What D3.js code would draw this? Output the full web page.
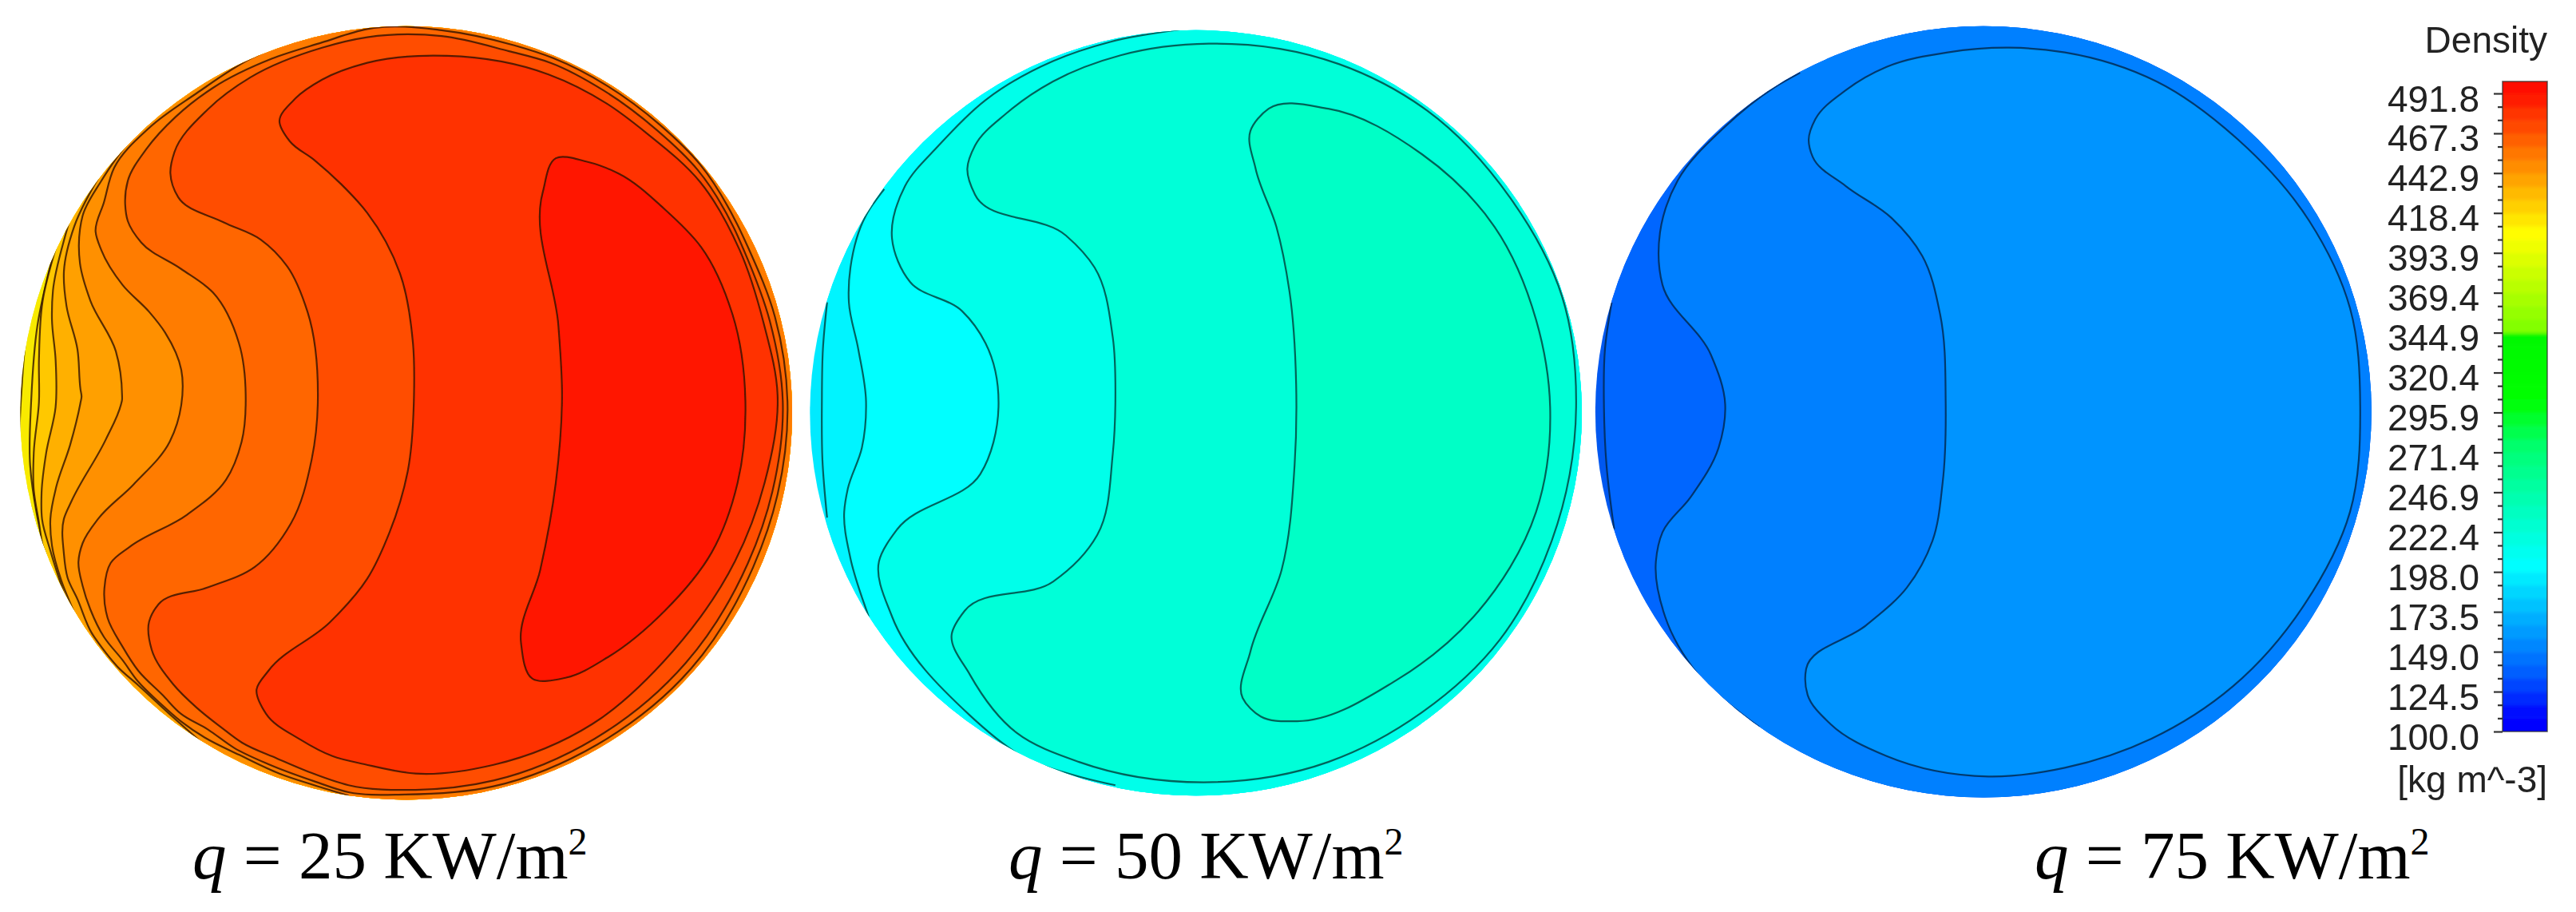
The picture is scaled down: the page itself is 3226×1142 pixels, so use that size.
<!DOCTYPE html>
<html>
<head>
<meta charset="utf-8">
<script src="https://cdn.jsdelivr.net/npm/d3@7/dist/d3.min.js"></script>
<style>
html,body{margin:0;padding:0;background:#fff;}
svg{display:block;}
</style>
</head>
<body>
<div id="chart"></div>
<script>
// Legend data
const legendTicks = [491.8,467.3,442.9,418.4,393.9,369.4,344.9,320.4,295.9,271.4,246.9,222.4,198.0,173.5,149.0,124.5,100.0];
const legendTitle = "Density";
const legendUnit = "[kg m^-3]";
const legendStopValues = [100,107.8,137.2,170,202.4,235.2,274.4,303.8,342,347.8,405.2,498.7];
const legendStopColors = ["#0000ff","#0000ff","#0060ff","#00b0ff","#00ffff","#00ffc0","#00ff70","#00ff00","#00f800","#80ff00","#ffff00","#ff0000"];

// Panel captions
const captionFlux = ["25","50","75"];
const captionUnit = "KW/m";

// Panel frames: source crop origin and width, wall ellipse (cx, cy, rx, ry)
const panelCropX = [0,1000,1980];
const panelCropW = [1020,1020,1000];
const panelWall = [[782,710,743,665],[765,710,743,658],[790,708,762,663]];
const panelBase = ["#f2ee00","#00eaff","#0058f0"];

// Panel 1 (q = 25) contours
const p1c0 = [[77,494],[54,563],[42,663],[40,780],[54,853],[85,950]];
const p1c1 = [[100,446],[72,560],[60,690],[58,800],[70,880],[92,965]];
const p1c2 = [[108,425],[82,518],[75,618],[75,691],[65,778],[65,842],[74,893],[88,957],[103,985]];
const p1c3 = [[136,373],[125,407],[102,499],[100,549],[107,618],[107,700],[89,778],[80,847],[81,893],[97,947],[125,1025]];
const p1c4 = [[190,305],[143,389],[123,467],[128,526],[149,600],[155,670],[157,682],[155,692],[135,765],[108,838],[97,892],[100,938],[118,998],[143,1053]];
const p1c5 = [[289,210],[246,247],[195,311],[159,371],[154,394],[154,453],[174,517],[223,604],[235,680],[235,687],[233,695],[204,755],[138,861],[123,892],[123,952],[130,993],[149,1030],[177,1089],[195,1112],[226,1146],[266,1178],[333,1233],[394,1281]];
const p1c6 = [[520,85],[482,101],[379,160],[287,220],[220,288],[200,348],[184,398],[195,430],[236,490],[287,536],[318,572],[349,636],[349,696],[327,759],[257,833],[189,892],[159,934],[151,966],[159,1007],[174,1048],[200,1095],[236,1135],[266,1172],[307,1208],[348,1240],[394,1268],[461,1298],[538,1330],[605,1350],[671,1368]];
const p1c7 = [[241,352],[246,380],[272,417],[348,462],[410,503],[460,590],[473,680],[465,760],[435,825],[360,885],[250,940],[213,968],[201,1011],[207,1062],[236,1112],[266,1153],[313,1195],[348,1227],[400,1254],[451,1286],[517,1314],[604,1343],[671,1362],[780,1366],[950,1352],[1150,1280],[1330,1150],[1450,975],[1497,850],[1516,690],[1492,545],[1440,425],[1419,385],[1348,283],[1271,215],[1168,147],[1065,100],[990,78],[850,52],[720,48],[707,50],[620,73],[523,101],[410,151],[338,201],[282,256],[246,311]];
const p1c8 = [[336,261],[328,298],[343,339],[430,382],[502,412],[553,458],[592,536],[612,680],[600,790],[560,900],[490,975],[400,1010],[305,1039],[287,1069],[292,1117],[333,1176],[379,1217],[425,1250],[466,1277],[533,1304],[594,1327],[671,1350],[800,1358],[950,1342],[1145,1270],[1320,1140],[1440,968],[1487,845],[1507,690],[1482,552],[1432,430],[1413,392],[1343,292],[1265,224],[1163,156],[1060,108],[980,88],[850,62],[707,64],[620,82],[482,133],[400,188]];
const p1c9 = [[538,208],[558,243],[605,275],[656,316],[707,366],[770,470],[795,590],[797,680],[785,810],[750,915],[707,995],[635,1070],[517,1153],[494,1185],[512,1227],[579,1272],[640,1300],[702,1314],[800,1330],[950,1315],[1140,1245],[1295,1120],[1415,965],[1472,830],[1497,680],[1470,555],[1424,430],[1348,313],[1245,229],[1168,178],[1056,128],[861,96],[707,108],[620,137],[569,169]];
const p1c10 = [[1070,272],[1130,278],[1190,298],[1280,360],[1350,425],[1410,540],[1435,690],[1420,830],[1370,950],[1280,1050],[1170,1130],[1090,1165],[1025,1167],[1003,1105],[1040,980],[1070,830],[1082,680],[1075,560],[1045,330]];
const p1open = [p1c0,p1c1,p1c2,p1c3,p1c4,p1c5,p1c6];
const p1closed = [p1c7,p1c8,p1c9,p1c10];
const p1colors = ["#f8ea00","#ffdc00","#ffc800","#ffb000","#ffa000","#ff9000","#ff7c00","#ff6600","#ff4d00","#ff3300","#ff1400"];

// Panel 2 (q = 50) contours
const p2a = [[55,520],[47,600],[45,690],[46,790],[55,890]];
const p2b = [[165,325],[130,370],[100,460],[97,520],[115,600],[130,690],[122,770],[95,840],[88,880],[100,960],[135,1060]];
const p2c = [[740,50],[600,72],[490,105],[360,172],[270,250],[205,320],[180,410],[215,485],[315,535],[360,590],[385,700],[350,815],[190,910],[155,965],[180,1060],[330,1230],[430,1300],[610,1350]];
const p2d = [[325,290],[340,335],[515,405],[570,460],[605,580],[610,690],[605,780],[575,920],[490,1000],[320,1050],[295,1090],[330,1160],[420,1260],[540,1310],[780,1345],[1020,1310],[1200,1225],[1350,1100],[1450,930],[1497,700],[1470,510],[1370,340],[1210,190],[1040,110],[790,75],[620,95],[490,140],[400,195],[340,250]];
const p2e = [[870,225],[905,187],[1020,187],[1200,265],[1340,390],[1420,550],[1447,700],[1420,880],[1300,1060],[1150,1170],[960,1240],[890,1232],[855,1200],[870,1120],[930,980],[955,800],[958,660],[945,500],[920,390],[880,290]];
const p2open = [p2a,p2b,p2c];
const p2closed = [p2d,p2e];
const p2colors = ["#00f4ff","#00ffff","#00ffea","#00ffd8","#00ffc6"];

// Panel 3 (q = 75) contours
const p3a = [[60,520],[47,600],[45,700],[50,800],[65,910]];
const p3b = [[430,125],[380,150],[280,220],[190,310],[155,400],[160,490],[255,610],[283,695],[270,770],[215,855],[160,915],[147,965],[165,1060],[230,1160],[350,1250]];
const p3c = [[447,240],[455,270],[520,320],[610,375],[670,440],[705,540],[716,690],[710,830],[690,930],[640,1010],[560,1075],[442,1150],[445,1195],[490,1245],[600,1300],[800,1335],[950,1320],[1120,1270],[1280,1180],[1420,1040],[1510,880],[1530,700],[1510,530],[1430,380],[1290,240],[1130,140],[950,90],[840,82],[720,90],[600,115],[520,155],[460,205]];
const p3open = [p3a,p3b];
const p3closed = [p3c];
const p3colors = ["#0066ff","#0080ff","#0094ff"];

const panelOpen = [p1open,p2open,p3open];
const panelClosed = [p1closed,p2closed,p3closed];
const panelColors = [p1colors,p2colors,p3colors];
const panelStroke = ["#2e1200","#063c38","#05264a"];

const W = 3226, H = 1142;
const svg = d3.select("#chart").append("svg").attr("width",W).attr("height",H).attr("viewBox",`0 0 ${W} ${H}`);
svg.append("rect").attr("width",W).attr("height",H).attr("fill","#fff");
const defs = svg.append("defs");
defs.append("filter").attr("id","soft").attr("x","-2%").attr("y","-2%").attr("width","104%").attr("height","104%")
  .append("feGaussianBlur").attr("stdDeviation",0.7);
defs.append("filter").attr("id","softText").attr("x","-5%").attr("y","-5%").attr("width","110%").attr("height","110%")
  .append("feGaussianBlur").attr("stdDeviation",0.7);
defs.append("filter").attr("id","softBand").attr("x","-5%").attr("y","-2%").attr("width","110%").attr("height","104%")
  .append("feGaussianBlur").attr("stdDeviation","0.6 2");

const yScale = d3.scaleLinear().domain([0,1568]).range([0,H]);

panelCropX.forEach((x0,i)=>{
  const xScale = d3.scaleLinear().domain([0,1568]).range([x0,x0+panelCropW[i]]);
  const [cx,cy,rx,ry] = panelWall[i];
  const clipId = "wall"+i;
  defs.append("clipPath").attr("id",clipId).append("ellipse")
    .attr("cx",xScale(cx)).attr("cy",yScale(cy))
    .attr("rx",xScale(cx+rx)-xScale(cx)).attr("ry",yScale(cy+ry)-yScale(cy));
  const g = svg.append("g").attr("filter","url(#soft)").append("g").attr("clip-path",`url(#${clipId})`);
  g.append("rect").attr("x",xScale(0)-10).attr("y",0).attr("width",xScale(1568)-xScale(0)+20).attr("height",H).attr("fill",panelBase[i]);
  const openLine = d3.line().x(d=>xScale(d[0])).y(d=>yScale(d[1])).curve(d3.curveCatmullRom.alpha(1));
  const closedLine = d3.line().x(d=>xScale(d[0])).y(d=>yScale(d[1])).curve(d3.curveCatmullRomClosed.alpha(1));
  const colors = panelColors[i];
  let k = 0;
  panelOpen[i].forEach(pts=>{
    const first = pts[0], last = pts[pts.length-1];
    const tail = [[last[0],1650],[1800,1650],[1800,-200],[first[0],-200]];
    const curve = openLine(pts);
    const fillPath = curve + tail.map(p=>`L${xScale(p[0])},${yScale(p[1])}`).join("") + "Z";
    g.append("path").attr("d",fillPath).attr("fill",colors[k]);
    g.append("path").attr("d",curve).attr("fill","none").attr("stroke",panelStroke[i]).attr("stroke-width",2.2).attr("stroke-opacity",0.8);
    k++;
  });
  panelClosed[i].forEach(pts=>{
    g.append("path").attr("d",closedLine(pts)).attr("fill",colors[k])
      .attr("stroke",panelStroke[i]).attr("stroke-width",2.2).attr("stroke-opacity",0.8);
    k++;
  });
});

// Captions
const captionX = [241,1263,2548];
const caption = svg.append("g").attr("font-family","'Liberation Serif',serif").attr("font-size",85).attr("fill","#000");
captionFlux.forEach((q,i)=>{
  const t = caption.append("text").attr("x",captionX[i]).attr("y",1100);
  t.append("tspan").attr("font-style","italic").text("q");
  t.append("tspan").text(` = ${q} ${captionUnit}`);
  t.append("tspan").attr("font-size",48).attr("dy",-30).text("2");
});

// Legend
const legendY = d3.scaleLinear().domain([100,491.8]).range([916,117]);
const barX0 = 3134, barX1 = 3190, barTop = 102;
const bandColor = d3.scaleLinear().domain(legendStopValues).range(legendStopColors).interpolate(d3.interpolateRgb);
const topValue = legendY.invert(barTop);
const bandStep = (491.8-100)/48;
const bandEdges = d3.range(100,topValue+bandStep,bandStep).map(v=>Math.min(v,topValue));
defs.append("clipPath").attr("id","barClip").append("rect")
  .attr("x",barX0).attr("y",barTop).attr("width",barX1-barX0).attr("height",legendY(100)-barTop);
const legend = svg.append("g").attr("filter","url(#softText)");
legend.append("g").attr("clip-path","url(#barClip)").append("g").attr("filter","url(#softBand)")
  .selectAll("rect.band").data(d3.pairs(bandEdges)).join("rect").attr("class","band")
  .attr("x",barX0-5).attr("width",barX1-barX0+10)
  .attr("y",d=>legendY(d[1])-(d[1]>=topValue?6:0)).attr("height",d=>legendY(d[0])-legendY(d[1])+(d[1]>=topValue?6:0)+(d[0]<=100?6:0.5))
  .attr("fill",d=>bandColor((d[0]+d[1])/2));
legend.append("rect").attr("x",barX0).attr("y",barTop).attr("width",barX1-barX0).attr("height",legendY(100)-barTop)
  .attr("fill","none").attr("stroke","#333").attr("stroke-width",1.6).attr("stroke-opacity",0.75);

const minorValues = [];
d3.pairs(legendTicks).forEach(([a,b])=>{ minorValues.push(a+(b-a)/3, a+2*(b-a)/3); });
const minorAxis = d3.axisLeft(legendY).tickValues(minorValues).tickSize(6).tickFormat("");
const majorAxis = d3.axisLeft(legendY).tickValues(legendTicks).tickSize(11).tickPadding(18).tickFormat(d=>d.toFixed(1));
const minorG = legend.append("g").attr("transform",`translate(${barX0},0)`).call(minorAxis);
const majorG = legend.append("g").attr("transform",`translate(${barX0},0)`).call(majorAxis);
[minorG,majorG].forEach(a=>{ a.select(".domain").remove(); a.selectAll("line").attr("stroke","#333").attr("stroke-width",2.2); });
majorG.selectAll("text").attr("font-family","'Liberation Sans',Arial,sans-serif").attr("font-size",46).attr("fill","#222")
  .attr("text-anchor","end").attr("dy",null).attr("y",22);
legend.append("text").attr("x",barX1).attr("y",66).attr("text-anchor","end")
  .attr("font-family","'Liberation Sans',Arial,sans-serif").attr("font-size",46).attr("fill","#222").text(legendTitle);
legend.append("text").attr("x",barX1).attr("y",992).attr("text-anchor","end")
  .attr("font-family","'Liberation Sans',Arial,sans-serif").attr("font-size",46).attr("fill","#222").text(legendUnit);
</script>
</body>
</html>
